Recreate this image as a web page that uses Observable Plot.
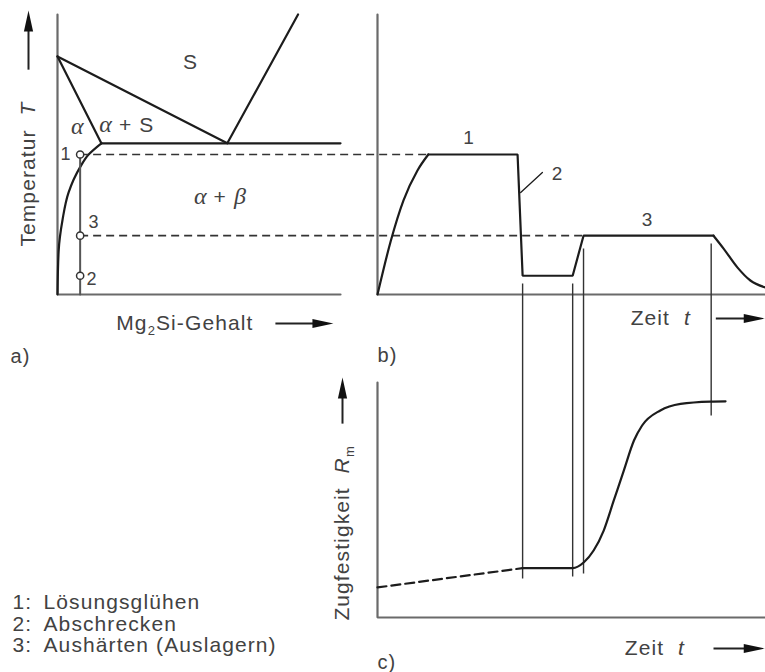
<!DOCTYPE html>
<html><head><meta charset="utf-8">
<script src="https://cdn.jsdelivr.net/npm/d3@7"></script>
<script src="https://cdn.jsdelivr.net/npm/@observablehq/plot@0.6"></script>
<style>
html,body{margin:0;padding:0;background:#fff;overflow:hidden;}
#chart{width:765px;height:672px;}
#chart svg text{letter-spacing:1.1px;}
</style></head><body><div id="chart"></div>
<script>
// ---------------- DATA (schematic units 0–100) ----------------
// a) phase diagram: [Mg2Si content c, temperature T]
const alloyC = 8;
const T_loesen = 50;      // 1: Lösungsglühen
const T_auslagern = 21;   // 3: Aushärten
const T_abschreck = 6.7;  // 2: Abschrecken
const liquidus = [[0, 85], [60, 54], [85, 100]];
const solidus = [[0, 85], [15.5, 54]];
const eutectic = [[15.5, 54], [100, 54]];
const solvus = [[15.5, 54], [11, 50], [8, 45.5], [3.9, 36.4], [1.8, 26.8], [0.4, 15.5], [0, 0]];
// b) temperature–time profile: [time t, temperature T]
const heating = [[0, 0], [3.4, 19], [6.7, 33.6], [10.3, 44.3], [13.1, 50]];
const holding = [[13.1, 50], [36.1, 50], [37.4, 6.7], [50.3, 6.7], [53.1, 21], [86.6, 21]];
const cooling = [[86.6, 21], [89.2, 16.4], [92.8, 9.6], [96.1, 5], [100, 2.5]];
// c) tensile strength vs time: [time t, strength Rm]
const strengthStart = [[0, 12.8], [37.4, 21]];
const strength = [[37.4, 21], [50.3, 21], [53.2, 23.5], [55.7, 28.5], [58.3, 37], [60.9, 49.8],
  [63.5, 62.6], [66.1, 75.3], [68.2, 81.7], [72.9, 88.1], [78.1, 90.9], [85.8, 91.9], [89.7, 92]];
// connector lines between b) and c): time, start temperature, end strength
const connTime = [37.4, 50.3, 53.1, 86];
const connFromT = [3.9, 3.9, 16.4, 18.2];
const connToR = [16.6, 17.4, 18.7, 86];
// labels
const regionLabels = [
  {c: 47, T: 83, text: "S"},
  {c: 7, T: 59.6, text: "~α~"},
  {c: 24.5, T: 60.4, text: "~α~ + S"},
  {c: 57.4, T: 34.6, text: "~α~ + ~β~"}
];
const stepLabels = [
  {t: 23.6, T: 56, text: "1"},
  {t: 46.4, T: 43.2, text: "2"},
  {t: 69.6, T: 26.8, text: "3"}
];
const legendNums = ["1:", "2:", "3:"];
const legendTexts = ["Lösungsglühen", "Abschrecken", "Aushärten (Auslagern)"];

// ---------------- LAYOUT (panel scales) ----------------
const W = 765, H = 672;
const xA = Plot.scale({x: {domain: [0, 100], range: [57, 340]}});
const yT = Plot.scale({y: {domain: [0, 100], range: [294, 14]}});
const xB = Plot.scale({x: {domain: [0, 100], range: [377, 765]}});
const yC = Plot.scale({y: {domain: [0, 100], range: [617, 382]}});
const A = pts => pts.map(([c, T]) => [xA.apply(c), yT.apply(T)]);
const B = pts => pts.map(([t, T]) => [xB.apply(t), yT.apply(T)]);
const C = pts => pts.map(([t, R]) => [xB.apply(t), yC.apply(R)]);

const INK = "#1c1c1c", AXIS = "#6a6a6a", TXT = "#424242";
const SANS = "Liberation Sans, Arial, Helvetica, sans-serif";
const axisStyle = {stroke: AXIS, strokeWidth: 2.2, strokeLinejoin: "miter"};
const curveStyle = {stroke: INK, strokeWidth: 2.2};

const arrowHead = {draw(ctx) { ctx.moveTo(0, 0); ctx.lineTo(4.6, 21); ctx.lineTo(-4.6, 21); ctx.closePath(); }};
const arrowDefs = [
  {x: xA.apply(0) - 29, y1: yT.apply(80.3), y2: yT.apply(101.4), rot: 0},   // Temperatur
  {x: xB.apply(0) - 35, y1: yC.apply(82.5), y2: yC.apply(102.1), rot: 0},   // Zugfestigkeit
  {y: yT.apply(0) + 29, x1: xA.apply(77), x2: xA.apply(97.5), rot: 90},      // Mg2Si
  {y: yT.apply(0) + 24, x1: xB.apply(87.2), x2: xB.apply(99.8), rot: 90},    // Zeit b
  {y: yC.apply(0) + 31, x1: xB.apply(86.6), x2: xB.apply(99.8), rot: 90}     // Zeit c
];
const shafts = arrowDefs.map(a => a.rot === 0
  ? {x1: a.x, x2: a.x, y1: a.y1, y2: a.y2 + 12}
  : {x1: a.x1, x2: a.x2 - 12, y1: a.y, y2: a.y});
const tips = arrowDefs.map(a => a.rot === 0 ? {x: a.x, y: a.y2, r: 0} : {x: a.x2, y: a.y, r: 90});

const axisTexts = [
  {x: xA.apply(0) - 29, y: yT.apply(43), text: "Temperatur\u00a0\u00a0*T*", rotate: -90},
  {x: xA.apply(45), y: yT.apply(0) + 29, text: "Mg_{2}Si-Gehalt", rotate: 0},
  {x: xB.apply(73), y: yT.apply(0) + 24, text: "Zeit\u00a0\u00a0*t*", rotate: 0},
  {x: xB.apply(0) - 35, y: yC.apply(36), text: "Zugfestigkeit\u00a0\u00a0*R*_{m}", rotate: -90},
  {x: xB.apply(71.5), y: yC.apply(0) + 31, text: "Zeit\u00a0\u00a0*t*", rotate: 0}
];
const panelTags = [
  {x: 10, y: yT.apply(0) + 62, text: "a)"},
  {x: xB.apply(0), y: yT.apply(0) + 61, text: "b)"},
  {x: xB.apply(0), y: yC.apply(0) + 45, text: "c)"}
];
const alloyPts = A([[alloyC, T_loesen], [alloyC, T_auslagern], [alloyC, T_abschreck]]);
const alloyLabels = [
  {x: alloyPts[0][0] - 14, y: alloyPts[0][1], text: "1"},
  {x: alloyPts[1][0] + 14, y: alloyPts[1][1] - 13, text: "3"},
  {x: alloyPts[2][0] + 12, y: alloyPts[2][1] + 3, text: "2"}
];
const legendRows = legendNums.map((n, i) => ({n, text: legendTexts[i], y: 602 + i * 21.6}));

const plot = Plot.plot({
  width: W, height: H, margin: 0,
  x: {type: "identity", axis: null},
  y: {type: "identity", axis: null},
  style: {background: "#fff", fontFamily: SANS},
  marks: [
    // axes
    Plot.line(A([[0, 100], [0, 0], [100, 0]]), axisStyle),
    Plot.line(B([[0, 100], [0, 0], [100, 0]]), axisStyle),
    Plot.line(C([[0, 100], [0, 0], [100, 0]]), axisStyle),
    // a) phase diagram
    Plot.line(A(liquidus), curveStyle),
    Plot.line(A(solidus), curveStyle),
    Plot.line(A(eutectic), curveStyle),
    Plot.line(A(solvus), {...curveStyle, curve: "monotone-y"}),
    Plot.line(A([[alloyC, 0], [alloyC, T_loesen]]), {stroke: "#555", strokeWidth: 2}),
    // dashed temperature levels
    Plot.link([T_loesen], {x1: xA.apply(alloyC), x2: xB.apply(13.1), y1: d => yT.apply(d), y2: d => yT.apply(d),
      stroke: "#333", strokeWidth: 1.7, strokeDasharray: "8,5"}),
    Plot.link([T_auslagern], {x1: xA.apply(alloyC), x2: xB.apply(53.1), y1: d => yT.apply(d), y2: d => yT.apply(d),
      stroke: "#333", strokeWidth: 1.7, strokeDasharray: "8,5"}),
    Plot.dot(alloyPts, {r: 3.6, fill: "#fff", stroke: "#333", strokeWidth: 1.5}),
    // b) temperature profile
    Plot.line(B(heating), {...curveStyle, curve: "monotone-x"}),
    Plot.line(B(holding), {...curveStyle, strokeLinejoin: "miter"}),
    Plot.line(B(cooling), {...curveStyle, curve: "monotone-x"}),
    Plot.line(B([[36.9, 36.4], [42.5, 43.6]]), {stroke: INK, strokeWidth: 1.3}),
    // connectors
    Plot.link(connTime, {x1: t => xB.apply(t), x2: t => xB.apply(t),
      y1: (t, i) => yT.apply(connFromT[i]), y2: (t, i) => yC.apply(connToR[i]), stroke: "#333", strokeWidth: 1.4}),
    // c) strength
    Plot.line(C(strengthStart), {...curveStyle, strokeDasharray: "9,5"}),
    Plot.line(C(strength), {...curveStyle, curve: "monotone-x"}),
    // arrows
    Plot.link(shafts, {x1: "x1", x2: "x2", y1: "y1", y2: "y2", stroke: "#222", strokeWidth: 2}),
    Plot.dot(tips.filter(d => d.r === 0), {x: "x", y: "y", symbol: arrowHead, fill: "#111", stroke: "none", rotate: 0}),
    Plot.dot(tips.filter(d => d.r === 90), {x: "x", y: "y", symbol: arrowHead, fill: "#111", stroke: "none", rotate: 90}),
    // texts
    Plot.text(regionLabels, {x: d => xA.apply(d.c), y: d => yT.apply(d.T), text: "text", fontSize: 21, fill: TXT}),
    Plot.text(alloyLabels, {x: "x", y: "y", text: "text", fontSize: 18, fill: TXT}),
    Plot.text(stepLabels, {x: d => xB.apply(d.t), y: d => yT.apply(d.T), text: "text", fontSize: 19, fill: TXT}),
    Plot.text(axisTexts.filter(d => d.rotate === 0), {x: "x", y: "y", text: "text", fontSize: 21, fill: TXT}),
    Plot.text(axisTexts.filter(d => d.rotate !== 0), {x: "x", y: "y", text: "text", fontSize: 21, fill: TXT, rotate: -90}),
    Plot.text(panelTags, {x: "x", y: "y", text: "text", fontSize: 20, fill: TXT, textAnchor: "start"}),
    Plot.text(legendRows, {x: 12, y: "y", text: "n", fontSize: 21, fill: TXT, textAnchor: "start"}),
    Plot.text(legendRows, {x: 43, y: "y", text: "text", fontSize: 21, fill: TXT, textAnchor: "start"})
  ]
});

// rich-text: *x* italic, ~x~ serif italic (Greek), _{x} subscript
d3.select(plot).selectAll("text").each(function () {
  const s = this.textContent;
  if (!/[*~]|_\{/.test(s)) return;
  const parts = s.split(/(\*[^*]+\*|~[^~]+~|_\{[^}]+\})/).filter(p => p);
  const el = d3.select(this);
  el.text(null);
  let shifted = false;
  for (const p of parts) {
    const ts = el.append("tspan");
    if (p.startsWith("*")) ts.text(p.slice(1, -1)).attr("font-style", "italic");
    else if (p.startsWith("~")) ts.text(p.slice(1, -1)).attr("font-style", "italic")
      .attr("font-family", "Liberation Serif, DejaVu Serif, serif").attr("font-size", 24).style("letter-spacing", "0");
    else if (p.startsWith("_{")) { ts.text(p.slice(2, -1)).attr("font-size", 13).attr("dy", 5); shifted = true; continue; }
    else ts.text(p);
    if (shifted) { ts.attr("dy", -5); shifted = false; }
  }
});

document.getElementById("chart").append(plot);
</script></body></html>
